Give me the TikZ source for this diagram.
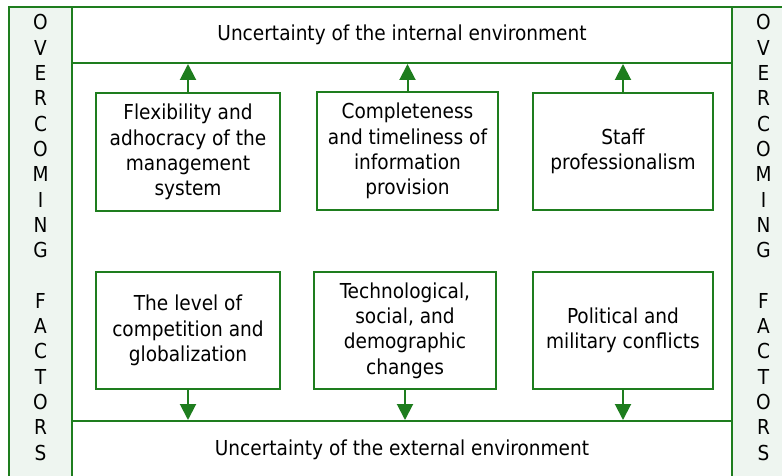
\documentclass[tikz,border=0pt]{standalone}
\usepackage{fontspec}
\setmainfont{DejaVu Sans Condensed}
\usetikzlibrary{arrows.meta}
\definecolor{gr}{RGB}{30,125,30}
\definecolor{barfill}{RGB}{238,245,240}
\begin{document}
\begin{tikzpicture}[x=1pt,y=-1pt,
  txt/.style={font=\fontsize{20.6}{25.3}\selectfont, text=black},
  frame/.style={draw=gr, line width=2pt, inner sep=0pt},
  factor/.style={frame, fill=white, txt, align=center, minimum width=#1, minimum height=117pt},
  bar/.style={frame, fill=barfill, minimum width=63pt, minimum height=473pt},
  env/.style={frame, fill=white, txt, minimum width=660pt},
  arr/.style={draw=gr, line width=2pt, -{Triangle[width=16pt,length=16pt]}},
  letters/.style={txt, align=center, inner sep=0pt}]
\useasboundingbox (0,0) rectangle (782,476);
\fill[white] (0,0) rectangle (782,476);
% side bars
\node[bar] (lbar) at (40.5,243.5) {};
\node[bar] (rbar) at (763.5,243.5) {};
\node[letters] (lletters) at (40.5,237.5) {O\\V\\E\\R\\C\\O\\M\\I\\N\\G\\\mbox{}\\F\\A\\C\\T\\O\\R\\S};
\node[letters] (rletters) at (763.5,237.5) {O\\V\\E\\R\\C\\O\\M\\I\\N\\G\\\mbox{}\\F\\A\\C\\T\\O\\R\\S};
% environment boxes
\node[env, minimum height=56pt] (intenv) at (402,35) {Uncertainty of the internal environment};
\node[env, minimum height=58pt] (extenv) at (402,450) {Uncertainty of the external environment};
% factor boxes
\node[factor=184pt] (b1) at (188,152) {Flexibility and\\adhocracy of the\\management\\system};
\node[factor=181pt] (b2) at (407.5,151) {Completeness\\and timeliness of\\information\\provision};
\node[factor=180pt] (b3) at (623,151.5) {Staff\\professionalism};
\node[factor=184pt] (b4) at (188,330.5) {The level of\\competition and\\globalization};
\node[factor=182pt] (b5) at (405,330.5) {Technological,\\social, and\\demographic\\changes};
\node[factor=180pt] (b6) at (623,330.5) {Political and\\military conflicts};
% arrows
\draw[arr] (b1.north) -- (b1.north |- intenv.south);
\draw[arr] (b2.north) -- (b2.north |- intenv.south);
\draw[arr] (b3.north) -- (b3.north |- intenv.south);
\draw[arr] (b4.south) -- (b4.south |- extenv.north);
\draw[arr] (b5.south) -- (b5.south |- extenv.north);
\draw[arr] (b6.south) -- (b6.south |- extenv.north);
\end{tikzpicture}
\end{document}
